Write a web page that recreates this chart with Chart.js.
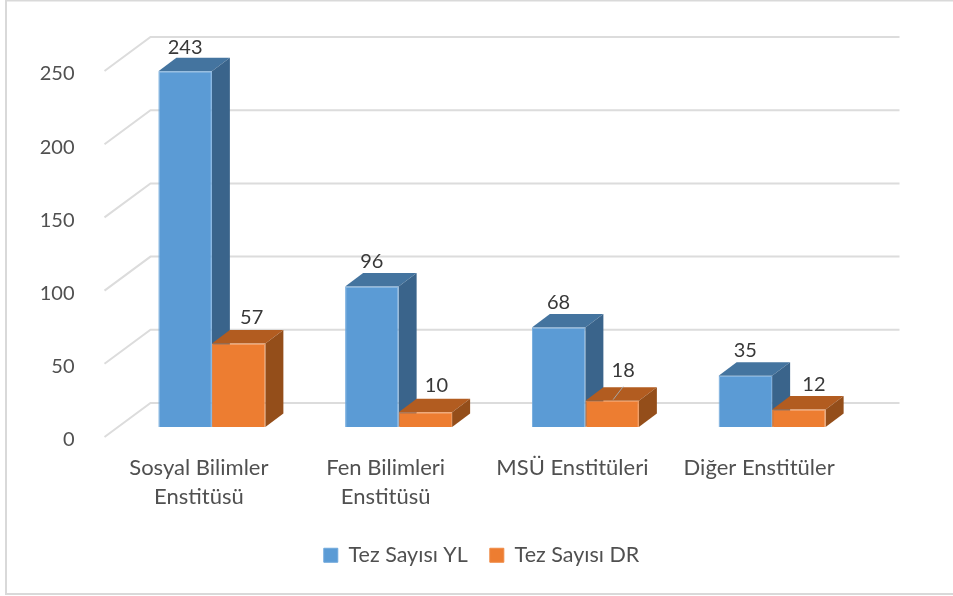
<!DOCTYPE html>
<html>
<head>
<meta charset="utf-8">
<title>Tez Sayısı</title>
<script src="https://cdn.jsdelivr.net/npm/chart.js@4"></script>
<style>
    html, body { margin: 0; padding: 0; background: #fff; }
    canvas { display: block; }
</style>
</head>
<body>
<canvas id="tezChart" width="953" height="596"></canvas>
<script>
const categories = [
    ["Sosyal Bilimler", "Enstitüsü"],
    ["Fen Bilimleri", "Enstitüsü"],
    "MSÜ Enstitüleri",
    "Diğer Enstitüler"
];
const tezYL = [243, 96, 68, 35];
const tezDR = [57, 10, 18, 12];
const yTicks = [0, 50, 100, 150, 200, 250];

// value label nudges from the top of each bar, [dx, dy]
const labelNudgeYL = [[0, -24], [0, -25], [0, -25], [0, -25]];
const labelNudgeDR = [[13, -26], [11, -27], [11, -30], [15, -25]];

const FONT = "Lato, Carlito, sans-serif";
const BAR_DX = 18, BAR_DY = 13.5;

const shade3d = {
    id: "shade3d",
    beforeDatasetsDraw(chart) {
        const { ctx, chartArea, scales } = chart;
        // walls and gridlines
        ctx.save();
        ctx.strokeStyle = "#dcdcdc";
        ctx.lineWidth = 2;
        yTicks.forEach((t) => {
            const y = scales.y.getPixelForValue(t);
            ctx.beginPath();
            ctx.moveTo(chartArea.left - 14, y + 10);
            ctx.lineTo(chartArea.left + 32, y - 24);
            ctx.lineTo(chartArea.right + 34, y - 24);
            ctx.stroke();
        });
        // tops and sides of the bars, blue first so orange sits over it
        [0, 1].forEach((i) => {
            const ds = chart.data.datasets[i];
            chart.getDatasetMeta(i).data.forEach((bar) => {
                const l = bar.x - bar.width / 2, r = bar.x + bar.width / 2;
                const t = bar.y, b = bar.base;
                ctx.fillStyle = ds.topColor;
                ctx.beginPath();
                ctx.moveTo(l, t);
                ctx.lineTo(l + BAR_DX, t - BAR_DY);
                ctx.lineTo(r + BAR_DX, t - BAR_DY);
                ctx.lineTo(r, t);
                ctx.closePath();
                ctx.fill();
                ctx.fillStyle = ds.sideColor;
                ctx.beginPath();
                ctx.moveTo(r, t);
                ctx.lineTo(r + BAR_DX, t - BAR_DY);
                ctx.lineTo(r + BAR_DX, b - BAR_DY);
                ctx.lineTo(r, b);
                ctx.closePath();
                ctx.fill();
            });
        });
        ctx.restore();
    },
    afterDatasetsDraw(chart) {
        const { ctx } = chart;
        ctx.save();
        ctx.font = "20px " + FONT;
        ctx.fillStyle = "#383838";
        ctx.textAlign = "center";
        ctx.textBaseline = "middle";
        [[0, tezYL, labelNudgeYL], [1, tezDR, labelNudgeDR]].forEach(([i, vals, nudge]) => {
            chart.getDatasetMeta(i).data.forEach((bar, k) => {
                ctx.fillText(vals[k], bar.x + nudge[k][0], bar.y + nudge[k][1]);
            });
        });
        // leader line of the MSÜ DR label
        const b = chart.getDatasetMeta(1).data[2];
        ctx.strokeStyle = "#a6a6a6";
        ctx.lineWidth = 1;
        ctx.beginPath();
        ctx.moveTo(b.x + 1, b.y - 1);
        ctx.lineTo(b.x + 11, b.y - 14);
        ctx.stroke();
        ctx.restore();
    },
    afterLayout(chart) {
        // legend is centred on the whole page, not on the plot
        const l = chart.legend;
        const dx = (953 - (l.left + l.right)) / 2 + 5;
        l.left += dx;
        l.right += dx;
    },
    beforeDraw(chart) {
        // frame has no right edge in the picture
        const { ctx } = chart;
        ctx.save();
        ctx.strokeStyle = "#d9d9d9";
        ctx.lineWidth = 2;
        ctx.beginPath();
        ctx.moveTo(953, 0.5);
        ctx.lineTo(6, 0.5);
        ctx.lineTo(6, 594);
        ctx.lineTo(953, 594);
        ctx.stroke();
        ctx.restore();
    }
};

new Chart(document.getElementById("tezChart"), {
    type: "bar",
    data: {
        labels: categories,
        datasets: [
            {
                label: "Tez Sayısı YL",
                data: tezYL,
                backgroundColor: "#5b9bd5",
                borderColor: "#6fa8dc",
                borderWidth: 1,
                topColor: "#44749f",
                sideColor: "#3a648b"
            },
            {
                label: "Tez Sayısı DR",
                data: tezDR,
                backgroundColor: "#ed7d31",
                borderColor: "#ef8a45",
                borderWidth: 1,
                topColor: "#b25c20",
                sideColor: "#944e1a"
            }
        ]
    },
    options: {
        responsive: false,
        animation: false,
        layout: { padding: { top: 61, right: 87.5, bottom: 20, left: 0 } },
        datasets: { bar: { barPercentage: 1, categoryPercentage: 0.573 } },
        plugins: {
            tooltip: { enabled: false },
            legend: {
                position: "bottom",
                labels: {
                    boxWidth: 14,
                    boxHeight: 14,
                    padding: 22,
                    color: "#505050",
                    font: { family: FONT, size: 21.5 }
                }
            }
        },
        scales: {
            x: {
                grid: { display: false },
                border: { display: false },
                afterFit(axis) { axis.height = 95.5; },
                ticks: {
                    color: "#505050",
                    padding: 17.5,
                    labelOffset: -13,
                    maxRotation: 0,
                    autoSkip: false,
                    font: { family: FONT, size: 22, lineHeight: 1.36 }
                }
            },
            y: {
                min: 0,
                max: 250,
                grid: { display: false },
                border: { display: false },
                afterFit(axis) { axis.width = 118.5; },
                afterBuildTicks(axis) { axis.ticks = yTicks.map((v) => ({ value: v })); },
                ticks: {
                    color: "#505050",
                    padding: 36,
                    labelOffset: 13,
                    font: { family: FONT, size: 20 }
                }
            }
        }
    },
    plugins: [shade3d]
});
</script>
</body>
</html>
